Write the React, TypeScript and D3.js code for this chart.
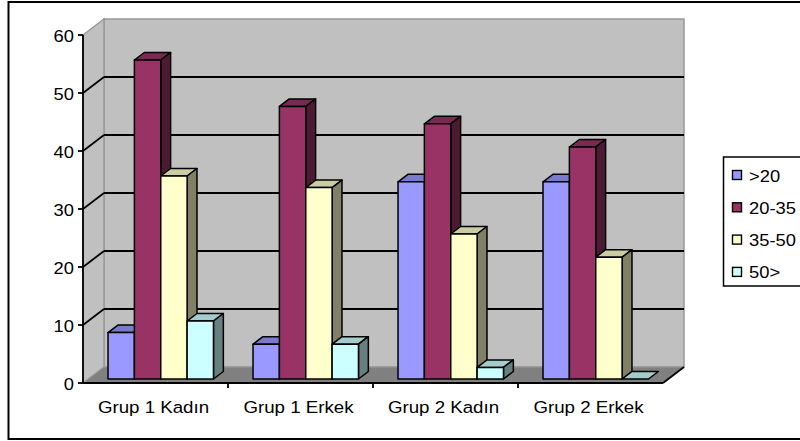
import React from "react";
import * as d3 from "d3";

// Categories, series and values
const categories = ["Grup 1 Kadın", "Grup 1 Erkek", "Grup 2 Kadın", "Grup 2 Erkek"];
const seriesNames = [">20", "20-35", "35-50", "50>"];
const seriesColors = ["#9999ff", "#993366", "#ffffcc", "#ccffff"];
const valuesUnder20 = [8, 6, 34, 34];
const values20to35 = [55, 47, 44, 40];
const values35to50 = [35, 33, 25, 21];
const valuesOver50 = [10, 6, 2, 0];
const seriesValues = [valuesUnder20, values20to35, values35to50, valuesOver50];
const yTicks = [0, 10, 20, 30, 40, 50, 60];

const W = 800;
const H = 441;
// front plane of the plot
const left = 83;
const right = 663;
const bottom = 383;
const top = 35;
// depth of the 3D box
const DX = 21;
const DY = -16;
const barFront = 0.25;
const barBack = 0.72;

const FONT = "'Liberation Sans', Arial, sans-serif";

function shade(c: string, k: number) {
  const col = d3.rgb(c);
  return d3.rgb(col.r * k, col.g * k, col.b * k).formatHex();
}

export default function App() {
  const y = d3.scaleLinear().domain([0, 60]).range([bottom, top]);
  const x0 = d3.scaleBand<string>().domain(categories).range([left, right]).padding(0);
  const x1 = d3
    .scaleBand<string>()
    .domain(seriesNames)
    .range([0, x0.bandwidth()])
    .paddingInner(0)
    .paddingOuter(0.75);

  const fx = DX * barFront;
  const fy = DY * barFront;
  const bdx = DX * (barBack - barFront);
  const bdy = DY * (barBack - barFront);

  const pts = (arr: number[][]) => arr.map((p) => p.join(",")).join(" ");

  const bars: React.ReactNode[] = [];
  categories.forEach((cat, ci) => {
    seriesNames.forEach((s, si) => {
      const v = seriesValues[si][ci];
      const xl = (x0(cat) as number) + (x1(s) as number) + fx;
      const xr = xl + x1.bandwidth();
      const yb = y(0) + fy;
      const yt = y(v) + fy;
      const color = seriesColors[si];
      bars.push(
        <g key={`${ci}-${si}`} stroke="#000" strokeWidth={1.5} strokeLinejoin="round">
          <polygon
            points={pts([
              [xl, yt],
              [xl + bdx, yt + bdy],
              [xr + bdx, yt + bdy],
              [xr, yt],
            ])}
            fill={shade(color, 0.8)}
          />
          {v > 0 && (
            <polygon
              points={pts([
                [xr, yt],
                [xr + bdx, yt + bdy],
                [xr + bdx, yb + bdy],
                [xr, yb],
              ])}
              fill={shade(color, 0.5)}
            />
          )}
          {v > 0 && <rect x={xl} y={yt} width={xr - xl} height={yb - yt} fill={color} />}
        </g>
      );
    });
  });

  const gridVals = yTicks.filter((t) => t > 0 && t < 60);

  return (
    <svg
      width={W}
      height={H}
      style={{ position: "absolute", left: 0, top: 0, background: "#fff" }}
      fontFamily={FONT}
    >
      <rect x={0} y={0} width={W} height={H} fill="#fff" />
      {/* outer chart border */}
      <rect x={8.5} y={2} width={820} height={437} fill="none" stroke="#000" strokeWidth={2} />

      {/* back wall */}
      <rect
        x={left + DX}
        y={top + DY}
        width={right - left}
        height={bottom - top}
        fill="#c0c0c0"
        stroke="#999"
        strokeWidth={1.5}
      />
      {/* left wall */}
      <polygon
        points={pts([
          [left, bottom],
          [left, top],
          [left + DX, top + DY],
          [left + DX, bottom + DY],
        ])}
        fill="#c0c0c0"
        stroke="#999"
        strokeWidth={1.5}
      />
      {/* floor */}
      <polygon
        points={pts([
          [left, bottom],
          [right, bottom],
          [right + DX, bottom + DY],
          [left + DX, bottom + DY],
        ])}
        fill="#808080"
        stroke="#999"
        strokeWidth={1}
      />

      {/* gridlines on walls */}
      {gridVals.map((t) => (
        <g key={t} stroke="#000" strokeWidth={1.8}>
          <line x1={left} y1={y(t)} x2={left + DX} y2={y(t) + DY} />
          <line x1={left + DX} y1={y(t) + DY} x2={right + DX} y2={y(t) + DY} />
        </g>
      ))}

      {bars}

      {/* axes */}
      <line x1={left} y1={top} x2={left} y2={bottom} stroke="#000" strokeWidth={1.8} />
      <line x1={left} y1={bottom} x2={right} y2={bottom} stroke="#000" strokeWidth={1.8} />
      <line x1={right} y1={bottom} x2={right + DX} y2={bottom + DY} stroke="#000" strokeWidth={1.8} />
      {yTicks.map((t) => (
        <g key={t}>
          <line x1={left - 5} y1={y(t)} x2={left} y2={y(t)} stroke="#000" strokeWidth={1.8} />
          <text
            x={0}
            y={0}
            transform={`translate(${left - 9},${y(t) + 6.5}) scale(1.08,1)`}
            textAnchor="end"
            fontSize={17}
            fill="#000"
          >
            {t}
          </text>
        </g>
      ))}
      {categories.map((c, i) => (
        <g key={c}>
          {i > 0 && (
            <line
              x1={x0(c) as number}
              y1={bottom}
              x2={x0(c) as number}
              y2={bottom + 5}
              stroke="#000"
              strokeWidth={1.8}
            />
          )}
          <text
            x={0}
            y={0}
            transform={`translate(${(x0(c) as number) + x0.bandwidth() / 2 - 2},${bottom + 30}) scale(1.1,1)`}
            textAnchor="middle"
            fontSize={17}
            fill="#000"
          >
            {c}
          </text>
        </g>
      ))}

      {/* legend */}
      <rect x={723.5} y={157} width={100} height={129} fill="#fff" stroke="#000" strokeWidth={1.5} />
      {seriesNames.map((s, i) => {
        const cy = 175 + i * 32.3;
        return (
          <g key={s}>
            <rect x={732.5} y={cy - 4.5} width={9} height={9} fill={seriesColors[i]} stroke="#000" strokeWidth={1.4} />
            <text
              x={0}
              y={0}
              transform={`translate(749,${cy + 6.5}) scale(1.08,1)`}
              fontSize={17}
              fill="#000"
            >
              {s}
            </text>
          </g>
        );
      })}
    </svg>
  );
}
